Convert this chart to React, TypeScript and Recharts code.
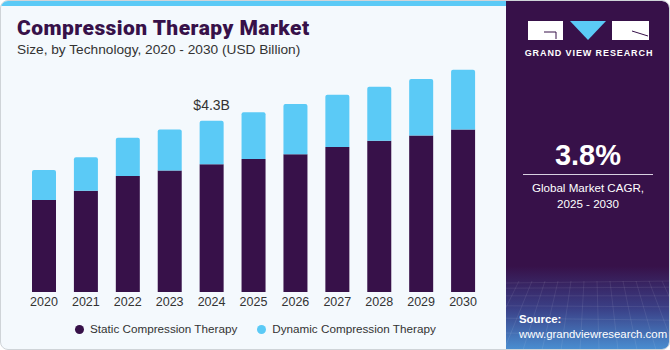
import React from 'react';
import { BarChart, Bar, XAxis, YAxis } from 'recharts';

const years = ['2020', '2021', '2022', '2023', '2024', '2025', '2026', '2027', '2028', '2029', '2030'];
const staticValues = [2.31, 2.54, 2.91, 3.05, 3.21, 3.34, 3.46, 3.64, 3.8, 3.93, 4.08];
const dynamicValues = [0.75, 0.84, 0.96, 1.03, 1.09, 1.17, 1.26, 1.31, 1.35, 1.42, 1.5];
const seriesNames = ['Static Compression Therapy', 'Dynamic Compression Therapy'];
const highlightYear = '2024';

const PURPLE = '#371149';
const BLUE = '#5bcaf6';
const FONT = '"Liberation Sans", Arial, sans-serif';

const data = years.map((year, i) => ({
  year,
  staticValue: staticValues[i],
  dynamicValue: dynamicValues[i],
  total: staticValues[i] + dynamicValues[i],
}));

const renderTotalLabel = (props: any) => {
  const { x, y, width, index } = props;
  if (data[index].year !== highlightYear) return null;
  return (
    <text
      x={x + width / 2}
      y={y - 11}
      textAnchor="middle"
      fill="#333"
      fontSize={14}
      fontFamily={FONT}
    >
      ${data[index].total.toFixed(1)}B
    </text>
  );
};

const SidePanel = () => (
  <div
    style={{
      position: 'absolute',
      left: 505,
      top: 0,
      width: 164,
      height: 349,
      background: `linear-gradient(180deg, ${PURPLE} 0%, ${PURPLE} 76%, #3a3f86 88%, #4a8fd2 100%)`,
      borderTopRightRadius: 8,
      overflow: 'hidden',
      color: '#fff',
      fontFamily: FONT,
    }}
  >
    <svg width={164} height={349} style={{ position: 'absolute', left: 0, top: 0 }}>
      {/* logo */}
      <rect x={22} y={20} width={35} height={19} fill="#fff" />
      <polyline points="38,31 50,31 50,38" fill="none" stroke={PURPLE} strokeWidth={1} />
      <polygon points="64,20 100,20 82,39" fill={BLUE} />
      <rect x={106} y={20} width={37} height={19} fill="#fff" />
      <line x1={126} y1={30} x2={142} y2={35} stroke={PURPLE} strokeWidth={1} />
      <text x={83} y={55} textAnchor="middle" fontSize={9} fontWeight={700} fill="#fff" letterSpacing={0.9}>
        GRAND VIEW RESEARCH
      </text>
      {/* faint grid at the bottom */}
      {Array.from({ length: 14 }).map((_, i) => (
        <line
          key={'v' + i}
          x1={i * 13}
          y1={280}
          x2={-40 + i * 19}
          y2={349}
          stroke="rgba(255,255,255,0.12)"
          strokeWidth={0.7}
        />
      ))}
      {Array.from({ length: 8 }).map((_, i) => (
        <line
          key={'h' + i}
          x1={0}
          y1={282 + i * i * 1.2 + i * 4}
          x2={164}
          y2={280 + i * i * 1.2 + i * 5}
          stroke="rgba(255,255,255,0.12)"
          strokeWidth={0.7}
        />
      ))}
    </svg>
    <div
      style={{
        position: 'absolute',
        left: 0,
        width: 164,
        top: 137,
        textAlign: 'center',
        fontSize: 29,
        fontWeight: 700,
        lineHeight: '34px',
      }}
    >
      3.8%
    </div>
    <div style={{ position: 'absolute', left: 17, top: 173, width: 130, height: 1, background: '#d8d0e0' }} />
    <div
      style={{
        position: 'absolute',
        left: 0,
        width: 164,
        top: 179,
        textAlign: 'center',
        fontSize: 11.6,
        lineHeight: '16px',
      }}
    >
      Global Market CAGR,
      <br />
      2025 - 2030
    </div>
    <div style={{ position: 'absolute', left: 13, top: 311, fontSize: 11.4, lineHeight: '15px' }}>
      <div style={{ fontWeight: 700 }}>Source:</div>
      <div>www.grandviewresearch.com</div>
    </div>
  </div>
);

export default function App() {
  return (
    <div
      style={{
        position: 'absolute',
        left: 0,
        top: 0,
        width: 668,
        height: 348,
        border: '1px solid #cfd4d8',
        borderRadius: 8,
        background: '#f4f9fd',
        overflow: 'hidden',
        fontFamily: FONT,
      }}
    >
      <div style={{ position: 'absolute', left: 0, top: 0, width: 505, height: 5, background: BLUE }} />
      <div
        style={{
          position: 'absolute',
          left: 16,
          top: 15,
          fontSize: 21,
          fontWeight: 900,
          color: PURPLE,
          fontFamily: 'Roboto, "Liberation Sans", sans-serif',
          letterSpacing: 0.45,
          lineHeight: '25px',
        }}
      >
        Compression Therapy Market
      </div>
      <div style={{ position: 'absolute', left: 16, top: 40, fontSize: 13.7, color: '#333', lineHeight: '18px' }}>
        Size, by Technology, 2020 - 2030 (USD Billion)
      </div>

      <div style={{ position: 'absolute', left: -1, top: -1 }}>
        <BarChart width={505} height={350} data={data} margin={{ top: 53, right: 21, left: 23, bottom: 38 }}>
          <XAxis
            dataKey="year"
            axisLine={false}
            tickLine={false}
            tickSize={0}
            tickMargin={5}
            height={20}
            tick={{ fill: '#333', fontSize: 12.5, fontFamily: FONT }}
            interval={0}
          />
          <YAxis hide domain={[0, 6]} />
          <Bar
            dataKey="staticValue"
            stackId="a"
            fill={PURPLE}
            barSize={24}
            isAnimationActive={false}
          />
          <Bar
            dataKey="dynamicValue"
            stackId="a"
            fill={BLUE}
            barSize={24}
            radius={[2, 2, 0, 0]}
            label={renderTotalLabel}
            isAnimationActive={false}
          />
        </BarChart>
      </div>

      {/* legend */}
      <div
        style={{
          position: 'absolute',
          left: 74,
          top: 320,
          display: 'flex',
          alignItems: 'center',
          fontSize: 11.7,
          color: '#333',
          lineHeight: '16px',
        }}
      >
        {seriesNames.map((name, i) => (
          <div key={name} style={{ display: 'flex', alignItems: 'center', marginRight: i === 0 ? 20 : 0 }}>
            <span
              style={{
                width: 9,
                height: 9,
                borderRadius: '50%',
                background: i === 0 ? PURPLE : BLUE,
                marginRight: 6,
                display: 'inline-block',
              }}
            />
            {name}
          </div>
        ))}
      </div>

      <SidePanel />
    </div>
  );
}
